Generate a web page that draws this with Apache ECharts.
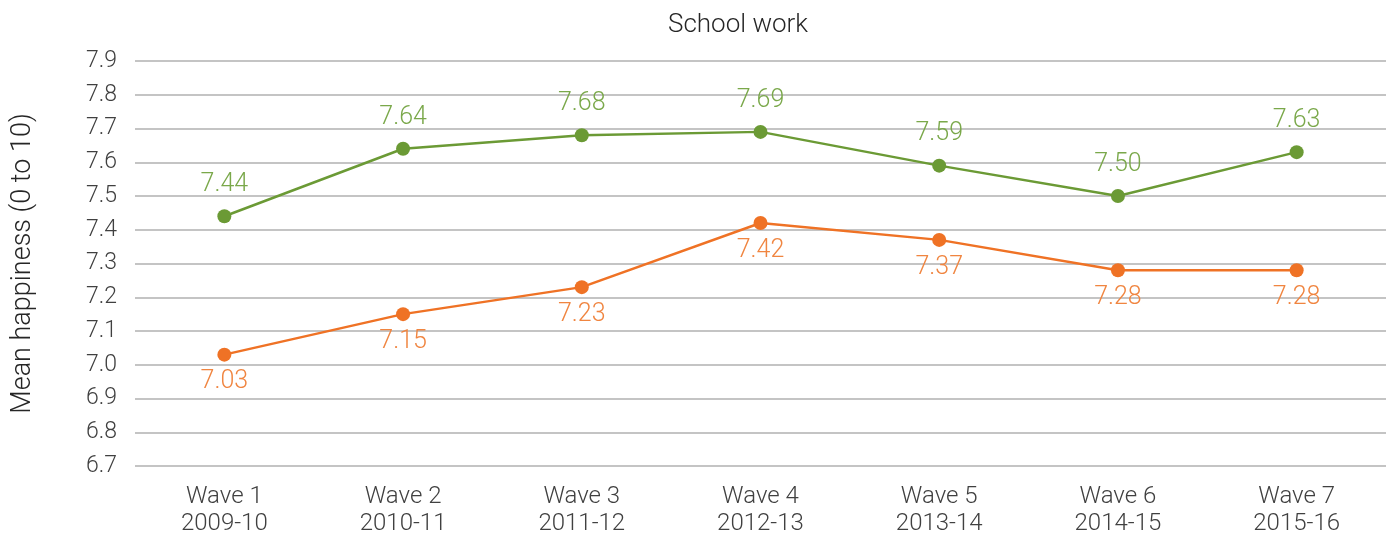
<!DOCTYPE html>
<html>
<head>
<meta charset="utf-8">
<script src="https://cdn.jsdelivr.net/npm/echarts@6/dist/echarts.min.js"></script>
<style>
  html, body { margin: 0; padding: 0; background: #fff; }
  #chart { width: 1389px; height: 537px; }
</style>
</head>
<body>
<div id="chart"></div>
<script>
var waves = ["Wave 1\n2009-10", "Wave 2\n2010-11", "Wave 3\n2011-12", "Wave 4\n2012-13",
             "Wave 5\n2013-14", "Wave 6\n2014-15", "Wave 7\n2015-16"];
var greenVals = [7.44, 7.64, 7.68, 7.69, 7.59, 7.50, 7.63];
var orangeVals = [7.03, 7.15, 7.23, 7.42, 7.37, 7.28, 7.28];

var font = "Roboto";
var chart = echarts.init(document.getElementById("chart"));

chart.setOption({
  animation: false,
  title: {
    text: "School work",
    left: 663,
    top: 7,
    textStyle: { fontFamily: font, fontWeight: 300, fontSize: 26, color: "#262626" }
  },
  grid: { left: 135, right: 3, top: 61, bottom: 71 },
  xAxis: {
    type: "category",
    data: waves,
    axisLine: { show: false },
    axisTick: { show: false },
    axisLabel: {
      margin: 17,
      fontFamily: font, fontWeight: 300, fontSize: 24, lineHeight: 27, color: "#404040"
    }
  },
  yAxis: {
    type: "value",
    min: 6.7,
    max: 7.9,
    interval: 0.1,
    name: "Mean happiness (0 to 10)",
    nameLocation: "middle",
    nameGap: 98,
    nameTextStyle: { fontFamily: font, fontWeight: 300, fontSize: 27, color: "#262626" },
    axisLabel: {
      margin: 18,
      fontFamily: font, fontWeight: 300, fontSize: 23, color: "#404040",
      formatter: function (v) { return v.toFixed(1); }
    },
    splitLine: { lineStyle: { color: "#b0b0b0", width: 1.5 } }
  },
  series: [
    {
      type: "line",
      data: greenVals,
      symbol: "circle",
      symbolSize: 14,
      itemStyle: { color: "#6b9a35" },
      lineStyle: { color: "#6b9a35", width: 2.5 },
      label: {
        show: true, position: "top", distance: 12,
        fontFamily: font, fontWeight: 300, fontSize: 25, color: "#7aa84a",
        formatter: function (p) { return p.value.toFixed(2); }
      }
    },
    {
      type: "line",
      data: orangeVals,
      symbol: "circle",
      symbolSize: 14,
      itemStyle: { color: "#ef7225" },
      lineStyle: { color: "#ef7225", width: 2.5 },
      label: {
        show: true, position: "bottom", distance: 8,
        fontFamily: font, fontWeight: 300, fontSize: 25, color: "#f08540",
        formatter: function (p) { return p.value.toFixed(2); }
      }
    }
  ]
});
</script>
</body>
</html>
